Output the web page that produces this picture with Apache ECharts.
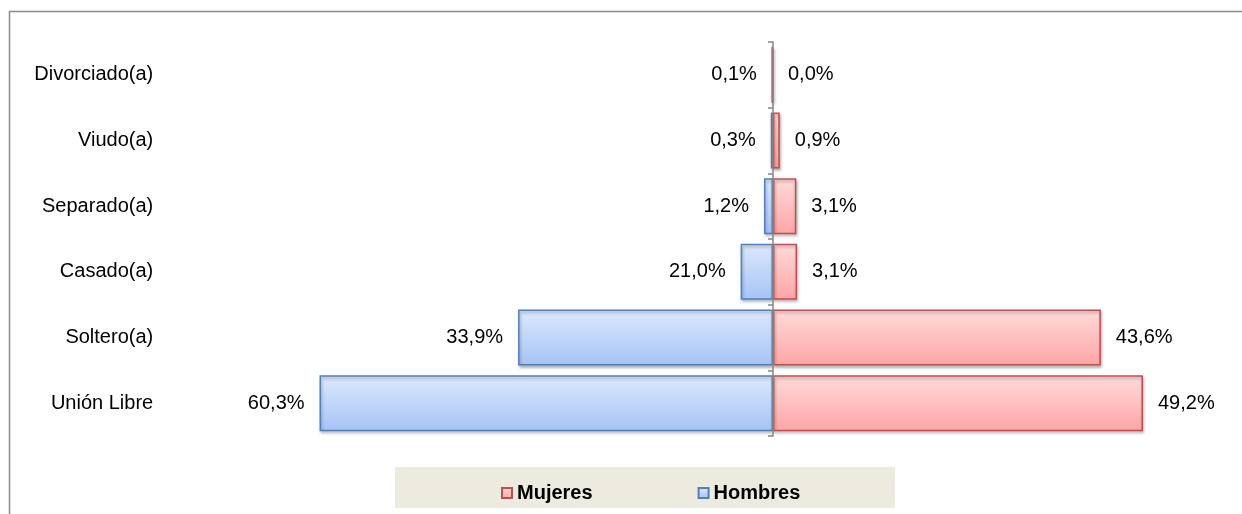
<!DOCTYPE html>
<html>
<head>
<meta charset="utf-8">
<script src="https://cdn.jsdelivr.net/npm/echarts@6/dist/echarts.min.js"></script>
<style>
  html, body { margin: 0; padding: 0; background: #fff; }
  #chart { width: 1242px; height: 514px; }
</style>
</head>
<body>
<div id="chart"></div>
<script>
// categorias de abajo hacia arriba
var categorias = ['Unión Libre', 'Soltero(a)', 'Casado(a)', 'Separado(a)', 'Viudo(a)', 'Divorciado(a)'];
// largo de barra (Casado(a) dibujada mas corta que su etiqueta)
var hombres = [60.3, 33.9, 4.3, 1.2, 0.3, 0.1];
var mujeres = [49.2, 43.6, 3.2, 3.1, 0.9, 0.0];
var etiquetasHombres = ['60,3%', '33,9%', '21,0%', '1,2%', '0,3%', '0,1%'];
var etiquetasMujeres = ['49,2%', '43,6%', '3,1%', '3,1%', '0,9%', '0,0%'];

var fuente = 'Liberation Sans, Arial, sans-serif';

var myChart = echarts.init(document.getElementById('chart'));
var option = {
    animation: false,
    textStyle: { fontFamily: fuente },
    graphic: [
        {
            type: 'rect',
            shape: { x: 9.5, y: 11.5, width: 1300, height: 600 },
            style: { fill: 'none', stroke: '#8a8a8a', lineWidth: 1.5 },
            z: -10
        },
        {
            type: 'rect',
            shape: { x: 395, y: 467, width: 500, height: 41 },
            style: { fill: '#EDEBE0' },
            z: -5
        }
    ],
    legend: {
        left: 496,
        top: 478,
        icon: 'rect',
        itemWidth: 10,
        itemHeight: 10,
        itemGap: 105,
        textStyle: { fontSize: 20, fontWeight: 'bold', color: '#000', fontFamily: fuente },
        data: ['Mujeres', 'Hombres']
    },
    grid: { left: 284.2, width: 902.4, top: 42, bottom: 78, containLabel: false, outerBoundsMode: 'none' },
    xAxis: {
        type: 'value',
        min: -65,
        max: 55,
        show: false
    },
    yAxis: [
        {
            type: 'category',
            data: categorias,
            z: 5,
            axisLine: { onZero: true, lineStyle: { color: '#868686', width: 1.5 } },
            axisTick: { show: true, length: 5, lineStyle: { color: '#868686', width: 1.5 } },
            axisLabel: { show: false }
        },
        {
            // solo para los nombres de las categorias a la izquierda
            type: 'category',
            data: categorias,
            position: 'left',
            offset: 123,
            axisLine: { show: false, onZero: false },
            axisTick: { show: false },
            axisLabel: { margin: 8, fontSize: 20, color: '#000', fontFamily: fuente }
        }
    ],
    series: [
        {
            name: 'Hombres',
            type: 'bar',
            stack: 'total',
            barWidth: 56,
            data: hombres.map(function (v) { return -v; }),
            itemStyle: {
                color: new echarts.graphic.LinearGradient(0, 0, 0, 1, [
                    { offset: 0, color: '#DDE8FD' },
                    { offset: 1, color: '#A6C3F6' }
                ]),
                borderColor: '#4F81BD',
                borderWidth: 1.5,
                shadowColor: 'rgba(0,0,0,0.3)',
                shadowBlur: 3,
                shadowOffsetX: 1,
                shadowOffsetY: 2
            },
            label: {
                show: true,
                position: 'left',
                distance: 15,
                fontSize: 20,
                color: '#000',
                fontFamily: fuente,
                formatter: function (p) { return etiquetasHombres[p.dataIndex]; }
            }
        },
        {
            name: 'Mujeres',
            type: 'bar',
            stack: 'total',
            barWidth: 56,
            data: mujeres,
            itemStyle: {
                color: new echarts.graphic.LinearGradient(0, 0, 0, 1, [
                    { offset: 0, color: '#FFDADA' },
                    { offset: 1, color: '#FFA5A5' }
                ]),
                borderColor: '#C0504D',
                borderWidth: 1.5,
                shadowColor: 'rgba(0,0,0,0.3)',
                shadowBlur: 3,
                shadowOffsetX: 1,
                shadowOffsetY: 2
            },
            label: {
                show: true,
                position: 'right',
                distance: 15,
                fontSize: 20,
                color: '#000',
                fontFamily: fuente,
                formatter: function (p) { return etiquetasMujeres[p.dataIndex]; }
            }
        }
    ]
};
myChart.setOption(option);
</script>
</body>
</html>
